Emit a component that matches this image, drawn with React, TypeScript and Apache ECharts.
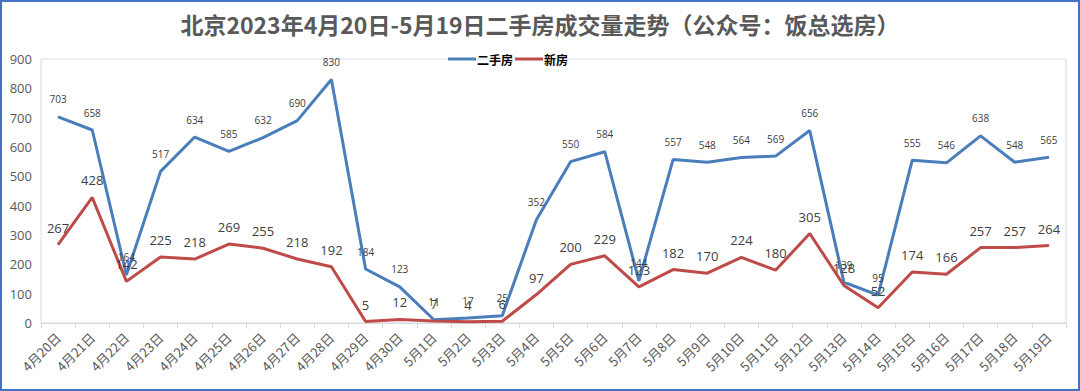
import React, { useEffect, useRef } from "react";
import * as echarts from "echarts";

const titleText = "北京2023年4月20日-5月19日二手房成交量走势（公众号：饭总选房）";
const categories = [
  "4月20日", "4月21日", "4月22日", "4月23日", "4月24日", "4月25日", "4月26日", "4月27日", "4月28日", "4月29日", "4月30日",
  "5月1日", "5月2日", "5月3日", "5月4日", "5月5日", "5月6日", "5月7日", "5月8日", "5月9日", "5月10日",
  "5月11日", "5月12日", "5月13日", "5月14日", "5月15日", "5月16日", "5月17日", "5月18日", "5月19日",
];
const secondHandName = "二手房";
const newHomeName = "新房";
const secondHand = [703, 658, 164, 517, 634, 585, 632, 690, 830, 184, 123, 11, 17, 25, 352, 550, 584, 144, 557, 548, 564, 569, 656, 139, 95, 555, 546, 638, 548, 565];
const newHome = [267, 428, 142, 225, 218, 269, 255, 218, 192, 5, 12, 7, 4, 6, 97, 200, 229, 123, 182, 170, 224, 180, 305, 128, 52, 174, 166, 257, 257, 264];

const FONT = '"Open Sans", "Noto Sans CJK SC", sans-serif';

export default function App() {
  const ref = useRef<HTMLDivElement>(null);
  useEffect(() => {
    if (!ref.current) return;
    const chart = echarts.init(ref.current, undefined, { renderer: "svg" });
    chart.setOption({
      animation: false,
      backgroundColor: "#ffffff",
      textStyle: { fontFamily: FONT },
      title: {
        text: titleText,
        left: "center",
        top: 7,
        textStyle: { fontSize: 23, fontWeight: "bold", color: "#595959", fontFamily: '"Noto Sans CJK SC", sans-serif' },
      },
      legend: {
        left: 443,
        top: 48,
        itemWidth: 28,
        itemHeight: 3,
        itemGap: 2,
        icon: "rect",
        textStyle: { fontSize: 12, fontWeight: "bold", color: "#000", padding: [0, 0, 0, -4], fontFamily: '"Noto Sans CJK SC", sans-serif' },
        data: [secondHandName, newHomeName],
      },
      grid: {
        left: 41,
        right: 14,
        top: 59,
        bottom: 68,
        show: true,
        borderColor: "#d3ddee",
        borderWidth: 1,
      },
      xAxis: {
        type: "category",
        data: categories,
        boundaryGap: true,
        axisLine: { show: true, lineStyle: { color: "#d9d9d9", width: 1 } },
        axisTick: { show: true, length: 5, lineStyle: { color: "#d9d9d9" } },
        axisLabel: { rotate: 45, fontSize: 13, color: "#595959", margin: 12, interval: 0, fontFamily: '"Noto Sans CJK SC", sans-serif' },
        splitLine: { show: false },
      },
      yAxis: {
        type: "value",
        min: 0,
        max: 900,
        interval: 100,
        axisLine: { show: false },
        axisTick: { show: false },
        axisLabel: { fontSize: 13, color: "#595959", margin: 9 },
        splitLine: { show: false },
      },
      series: [
        {
          name: secondHandName,
          type: "line",
          data: secondHand,
          symbol: "circle",
          symbolSize: 1,
          lineStyle: { color: "#4a7ebb", width: 3 },
          itemStyle: { color: "#4a7ebb" },
          label: { show: true, position: "top", distance: 12, fontSize: 10, color: "#404040" },
        },
        {
          name: newHomeName,
          type: "line",
          data: newHome,
          symbol: "circle",
          symbolSize: 1,
          lineStyle: { color: "#be4b48", width: 3 },
          itemStyle: { color: "#be4b48" },
          label: { show: true, position: "top", distance: 10, fontSize: 13, color: "#404040" },
        },
      ],
      graphic: [
        {
          type: "rect",
          shape: { x: 1, y: 1, width: 1078, height: 389 },
          style: { fill: "none", stroke: "#4472c4", lineWidth: 2 },
          silent: true,
        },
      ],
    });
    return () => chart.dispose();
  }, []);
  return (
    <div
      ref={ref}
      style={{ position: "absolute", left: 0, top: 0, width: 1080, height: 391 }}
    />
  );
}
